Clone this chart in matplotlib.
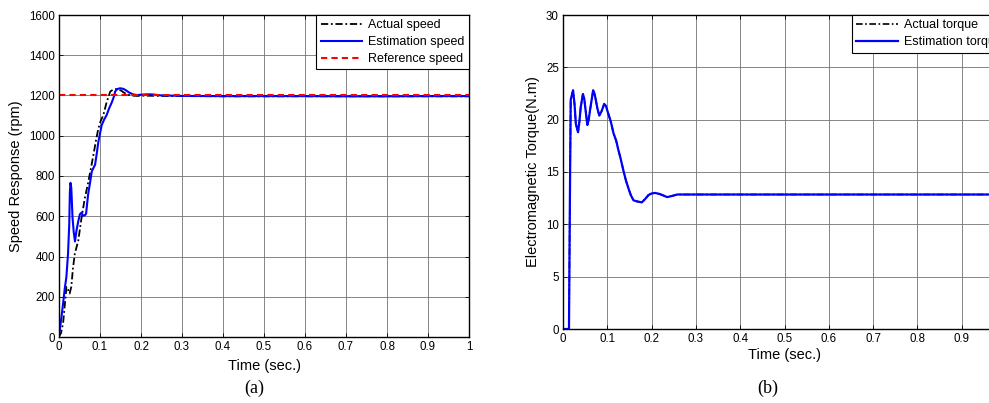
import matplotlib.pyplot as plt

plt.rcParams['font.family'] = ['Liberation Sans', 'DejaVu Sans']

# speed response (a)
t_est_speed = [0.0, 0.0016, 0.006, 0.01, 0.014, 0.018, 0.022, 0.025, 0.0265, 0.028, 0.030,
               0.033, 0.036, 0.039, 0.0426, 0.047, 0.051, 0.055, 0.059, 0.063, 0.066, 0.071,
               0.076, 0.080, 0.084, 0.088, 0.092, 0.096, 0.100, 0.104, 0.110, 0.116, 0.122,
               0.129, 0.134, 0.137, 0.142, 0.149, 0.157, 0.164, 0.170, 0.180, 0.190, 0.200,
               0.215, 0.230, 0.245, 0.26, 0.30, 0.40, 0.50, 0.60, 0.70, 0.80, 0.90, 1.0]
est_speed = [20, 28, 100, 167, 240, 298, 413, 560, 720, 766, 740,
             593, 520, 475, 528, 575, 610, 618, 602, 605, 612, 708,
             770, 823, 840, 856, 910, 970, 1010, 1052, 1080, 1102, 1135,
             1167, 1195, 1220, 1232, 1236, 1233, 1225, 1216, 1206, 1202, 1204,
             1206, 1205, 1201, 1200, 1198, 1197, 1197, 1197, 1196, 1196, 1197, 1197]

t_act_speed = [0.0, 0.005, 0.01, 0.016, 0.018, 0.022, 0.026, 0.030, 0.034, 0.0385, 0.047,
               0.055, 0.063, 0.071, 0.078, 0.084, 0.090, 0.096, 0.102, 0.108, 0.116, 0.125,
               0.133, 0.140, 0.145, 0.152, 0.157, 0.165, 0.174, 0.19, 0.21, 0.25, 0.30,
               0.40, 0.50, 0.60, 0.70, 0.80, 0.90, 1.0]
act_speed = [3, 20, 69, 200, 249, 235, 216, 250, 340, 413, 479,
             593, 690, 766, 840, 905, 975, 1036, 1075, 1102, 1165, 1220,
             1230, 1232, 1230, 1224, 1216, 1207, 1200, 1198, 1199, 1198, 1197,
             1196, 1196, 1196, 1196, 1196, 1196, 1196]

ref_t = [0.0, 1.0]
ref_speed = [1200, 1200]

# torque (b)
t_torque = [0.0, 0.0135, 0.0155, 0.0174, 0.0227, 0.026, 0.029, 0.034, 0.037, 0.040, 0.045,
            0.048, 0.051, 0.055, 0.058, 0.061, 0.068, 0.071, 0.074, 0.078, 0.082, 0.087,
            0.093, 0.097, 0.102, 0.108, 0.114, 0.120, 0.125, 0.130, 0.136, 0.142, 0.148,
            0.153, 0.159, 0.166, 0.172, 0.178, 0.185, 0.193, 0.200, 0.208, 0.218, 0.227,
            0.235, 0.245, 0.258, 0.28, 0.35, 0.5, 0.7, 0.9, 1.0]
torque = [0.0, 0.0, 12.0, 21.9, 22.8, 21.5, 19.6, 18.8, 19.8, 21.2, 22.45,
          22.0, 20.9, 19.5, 20.0, 20.9, 22.8, 22.5, 21.9, 21.0, 20.4, 20.8,
          21.5, 21.3, 20.6, 19.8, 18.7, 18.0, 17.1, 16.3, 15.2, 14.2, 13.4,
          12.8, 12.3, 12.2, 12.15, 12.1, 12.4, 12.8, 12.95, 13.0, 12.9, 12.75,
          12.6, 12.7, 12.85, 12.85, 12.85, 12.85, 12.85, 12.85, 12.85]

xticks = [0, 0.1, 0.2, 0.3, 0.4, 0.5, 0.6, 0.7, 0.8, 0.9, 1]
xticklabels = ['0', '0.1', '0.2', '0.3', '0.4', '0.5', '0.6', '0.7', '0.8', '0.9', '1']
speed_ticks = [0, 200, 400, 600, 800, 1000, 1200, 1400, 1600]
torque_ticks = [0, 5, 10, 15, 20, 25, 30]

dashdot = (0, (4, 1.5, 1, 1.5))

fig = plt.figure(figsize=(9.89, 4.03), dpi=100)
ax1 = fig.add_axes([59/989, 66/403, 410/989, 322/403])
# right panel runs past the figure edge, as in the source image
ax2 = fig.add_axes([563/989, 74/403, 443/989, 314/403])


def style(ax, pad):
    ax.grid(True, color='0.45', linewidth=0.6)
    ax.set_axisbelow(True)
    ax.tick_params(direction='in', top=True, right=True, labelsize=8.3, length=3, width=0.6, pad=3)
    for s in ax.spines.values():
        s.set_linewidth(1.0)
    ax.set_xlim(0, 1)
    ax.set_xticks(xticks)
    ax.set_xticklabels(xticklabels)
    ax.set_xlabel('Time (sec.)', fontsize=10.5, labelpad=pad)


def legend(ax):
    leg = ax.legend(loc='upper right', fontsize=9, fancybox=False, framealpha=1,
                    edgecolor='black', borderaxespad=0, handlelength=3.3, labelspacing=0.38,
                    borderpad=0.35, handletextpad=0.5)
    leg.get_frame().set_linewidth(0.8)


ax1.plot(t_act_speed, act_speed, color='black', linestyle=dashdot, lw=1.3, label='Actual speed')
ax1.plot(t_est_speed, est_speed, color='blue', lw=1.5, label='Estimation speed')
ax1.plot(ref_t, ref_speed, color='red', linestyle=(0, (3, 2)), lw=1.5, label='Reference speed')
style(ax1, 4)
ax1.set_ylim(0, 1600)
ax1.set_yticks(speed_ticks)
ax1.set_ylabel('Speed Response (rpm)', fontsize=10.5, labelpad=4)
legend(ax1)

ax2.plot(t_torque, torque, color='black', linestyle=dashdot, lw=1.2, label='Actual torque')
ax2.plot(t_torque, torque, color='blue', lw=1.6, label='Estimation torque')
style(ax2, 2)
ax2.set_ylim(0, 30)
ax2.set_yticks(torque_ticks)
ax2.set_ylabel('Electromagnetic Torque(N.m)', fontsize=10.5, labelpad=4)
legend(ax2)

fig.text(254/989, 1 - 388/403, '(a)', ha='center', va='center', fontsize=13, family='Liberation Serif')
fig.text(768/989, 1 - 388/403, '(b)', ha='center', va='center', fontsize=13, family='Liberation Serif')

fig.savefig('out.png', dpi=100)
